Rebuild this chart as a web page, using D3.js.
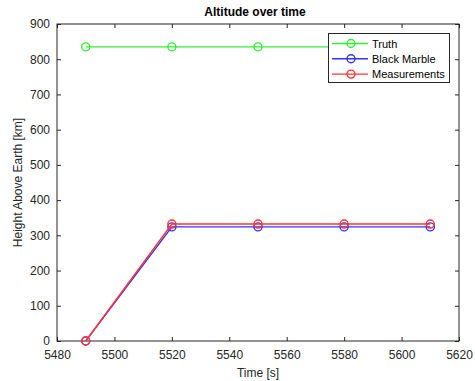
<!DOCTYPE html>
<html><head><meta charset="utf-8">
<script src="https://cdn.jsdelivr.net/npm/d3@7"></script>
<style>body{margin:0;background:#fff}svg{display:block;font-family:"Liberation Sans",Arial,sans-serif}</style>
</head><body><svg id="c" width="475" height="381"></svg>
<script>
const times = [5490, 5520, 5550, 5580, 5610];
const truth = [835, 835, 835, 835, 835];
const blackMarble = [0, 324, 324, 324, 324];
const measurements = [0, 332, 332, 332, 332];
const seriesNames = ["Truth", "Black Marble", "Measurements"];
const seriesColors = ["#33ee33", "#3333ff", "#ff3333"];
const xTicks = [5480, 5500, 5520, 5540, 5560, 5580, 5600, 5620];
const yTicks = [0, 100, 200, 300, 400, 500, 600, 700, 800, 900];

const svg = d3.select("#c");
const L = 57, R = 459, T = 24, B = 341;
const x = d3.scaleLinear().domain([5480, 5620]).range([L, R]);
const y = d3.scaleLinear().domain([0, 900]).range([B, T]);
const axisCol = "#262626";

svg.append("rect").attr("x", L).attr("y", T).attr("width", R - L).attr("height", B - T).attr("fill", "#fff");

function styleAxis(g) {
  g.select(".domain").remove();
  g.selectAll(".tick line").attr("stroke", axisCol);
  g.selectAll(".tick text").attr("fill", axisCol).style("font-size", "12px");
}
svg.append("g").attr("transform", `translate(0,${B})`)
  .call(d3.axisBottom(x).tickValues(xTicks).tickSizeInner(-4).tickSizeOuter(0).tickPadding(9).tickFormat(d3.format("d")))
  .call(styleAxis);
svg.append("g").attr("transform", `translate(0,${T})`)
  .call(d3.axisTop(x).tickValues(xTicks).tickSizeInner(-4).tickSizeOuter(0).tickFormat(""))
  .call(styleAxis);
svg.append("g").attr("transform", `translate(${L},0)`)
  .call(d3.axisLeft(y).tickValues(yTicks).tickSizeInner(-4).tickSizeOuter(0).tickPadding(7).tickFormat(d3.format("d")))
  .call(styleAxis);
svg.append("g").attr("transform", `translate(${R},0)`)
  .call(d3.axisRight(y).tickValues(yTicks).tickSizeInner(-4).tickSizeOuter(0).tickFormat(""))
  .call(styleAxis);
svg.append("rect").attr("x", L).attr("y", T).attr("width", R - L).attr("height", B - T)
  .attr("fill", "none").attr("stroke", axisCol).attr("stroke-width", 1);

const data = [truth, blackMarble, measurements];
const line = d3.line().x((d, i) => x(times[i])).y(d => y(d));
data.forEach((vals, k) => {
  const g = svg.append("g");
  g.append("path").datum(vals).attr("d", line).attr("fill", "none")
    .attr("stroke", seriesColors[k]).attr("stroke-width", 1.4);
  g.selectAll("circle").data(vals).join("circle")
    .attr("cx", (d, i) => x(times[i])).attr("cy", d => y(d)).attr("r", 4)
    .attr("fill", "none").attr("stroke", seriesColors[k]).attr("stroke-width", 1.4);
});

// legend
const lg = svg.append("g");
lg.append("rect").attr("x", 328.5).attr("y", 33.5).attr("width", 121).attr("height", 49)
  .attr("fill", "#fff").attr("stroke", axisCol).attr("stroke-width", 1);
seriesNames.forEach((n, k) => {
  const yy = 43.5 + k * 15.3;
  lg.append("line").attr("x1", 332).attr("x2", 368).attr("y1", yy).attr("y2", yy)
    .attr("stroke", seriesColors[k]).attr("stroke-width", 1.4);
  lg.append("circle").attr("cx", 351).attr("cy", yy).attr("r", 4).attr("fill", "none")
    .attr("stroke", seriesColors[k]).attr("stroke-width", 1.4);
  lg.append("text").attr("x", 372).attr("y", yy + 4).text(n).style("font-size", "11px").attr("fill", "#000");
});

svg.append("text").attr("x", 255).attr("y", 16).attr("text-anchor", "middle")
  .style("font-size", "12px").style("font-weight", "bold").attr("fill", "#000").text("Altitude over time");
svg.append("text").attr("x", (L + R) / 2).attr("y", 377).attr("text-anchor", "middle")
  .style("font-size", "12px").attr("fill", axisCol).text("Time [s]");
svg.append("text").attr("transform", `translate(22,${(T + B) / 2}) rotate(-90)`).attr("text-anchor", "middle")
  .style("font-size", "12px").attr("fill", axisCol).text("Height Above Earth [km]");
</script></body></html>
